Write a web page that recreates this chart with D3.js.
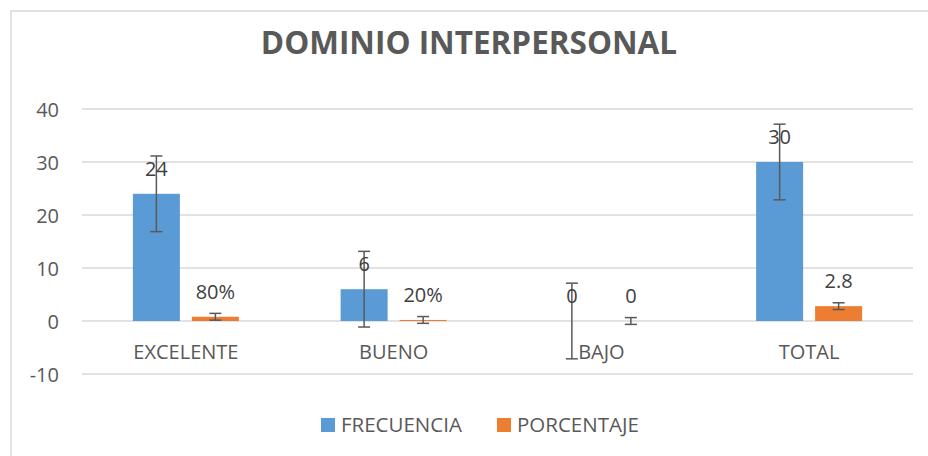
<!DOCTYPE html>
<html><head><meta charset="utf-8">
<script src="https://cdn.jsdelivr.net/npm/d3@7"></script>
<style>body{margin:0;background:#fff;}svg{display:block;}</style>
</head><body>
<svg id="c" width="928" height="456"></svg>
<script>
const categories = ["EXCELENTE","BUENO","BAJO","TOTAL"];
const frecuencia = [24, 6, 0, 30];
const porcentaje = [0.8, 0.2, 0, 2.8];
const frecuenciaLabels = ["24","6","0","30"];
const porcentajeLabels = ["80%","20%","0","2.8"];
const frecuenciaError = 7.14;
const porcentajeError = 0.64;
const yTicks = [-10, 0, 10, 20, 30, 40];
const seriesNames = ["FRECUENCIA","PORCENTAJE"];
const colors = ["#5b9bd5","#ed7d31"];

const svg = d3.select("#c");
const font = "'Open Sans', sans-serif";
// outer border
svg.append("rect").attr("x",11).attr("y",11).attr("width",940).attr("height",460)
  .attr("fill","none").attr("stroke","#d9d9d9").attr("stroke-width",1.5);

const x0 = d3.scaleBand().domain(categories).range([82,913]).paddingInner(0).paddingOuter(0);
const y = d3.scaleLinear().domain([-10,40]).range([374,109]);
const barW = 47, gap = 12;
const x1 = d3.scaleOrdinal().domain(seriesNames).range([-(barW+gap/2), gap/2]);

// grid
svg.append("g").selectAll("line").data(yTicks).join("line")
  .attr("x1",82).attr("x2",913).attr("y1",d=>y(d)).attr("y2",d=>y(d))
  .attr("stroke","#d9d9d9").attr("stroke-width",1.5);

// y axis
const yAxis = d3.axisLeft(y).tickValues(yTicks).tickSize(0).tickPadding(0).tickFormat(d=>String(d));
const ga = svg.append("g").attr("transform","translate(59,0)").call(yAxis);
ga.select(".domain").remove();
ga.selectAll("text").attr("font-family",font).attr("font-size",20).attr("fill","#595959").attr("dy","0.35em");

// x category labels
const xAxis = d3.axisBottom(x0).tickSize(0).tickPadding(0);
const gx = svg.append("g").attr("transform","translate(0,352)").call(xAxis);
gx.select(".domain").remove();
gx.selectAll("text").attr("font-family",font).attr("font-size",20).attr("fill","#595959").attr("dy","0.35em");

const series = [
  {name:seriesNames[0], values:frecuencia, labels:frecuenciaLabels, err:frecuenciaError, color:colors[0]},
  {name:seriesNames[1], values:porcentaje, labels:porcentajeLabels, err:porcentajeError, color:colors[1]}
];

series.forEach(s=>{
  const g = svg.append("g");
  const cx = i => x0(categories[i]) + x0.bandwidth()/2 + x1(s.name);
  g.selectAll("rect").data(s.values).join("rect")
    .attr("x",(d,i)=>cx(i)).attr("width",barW)
    .attr("y",d=>y(Math.max(0,d))).attr("height",d=>Math.abs(y(d)-y(0)))
    .attr("fill",s.color);
  // error bars
  const eb = g.selectAll("g.eb").data(s.values).join("g").attr("class","eb");
  eb.append("line").attr("x1",(d,i)=>cx(i)+barW/2).attr("x2",(d,i)=>cx(i)+barW/2)
    .attr("y1",d=>y(d+s.err)).attr("y2",d=>y(d-s.err));
  eb.append("line").attr("x1",(d,i)=>cx(i)+barW/2-6).attr("x2",(d,i)=>cx(i)+barW/2+6)
    .attr("y1",d=>y(d+s.err)).attr("y2",d=>y(d+s.err));
  eb.append("line").attr("x1",(d,i)=>cx(i)+barW/2-6).attr("x2",(d,i)=>cx(i)+barW/2+6)
    .attr("y1",d=>y(d-s.err)).attr("y2",d=>y(d-s.err));
  eb.selectAll("line").attr("stroke","#595959").attr("stroke-width",1.5);
  // labels
  g.selectAll("text").data(s.values).join("text")
    .attr("x",(d,i)=>cx(i)+barW/2).attr("y",d=>y(d)-18)
    .attr("text-anchor","middle").attr("font-family",font).attr("font-size",20)
    .attr("fill","#404040").text((d,i)=>s.labels[i]);
});

// title
svg.append("text").attr("x",469).attr("y",54).attr("text-anchor","middle")
  .attr("font-family",font).attr("font-weight","bold").attr("font-size",31.5)
  .attr("fill","#595959").text("DOMINIO INTERPERSONAL");

// legend
const lg = svg.append("g");
const legX = [321, 497];
seriesNames.forEach((n,i)=>{
  lg.append("rect").attr("x",legX[i]).attr("y",418).attr("width",14).attr("height",14).attr("fill",colors[i]);
  lg.append("text").attr("x",legX[i]+20).attr("y",425).attr("dy","0.35em")
    .attr("font-family",font).attr("font-size",20.5).attr("fill","#595959").text(n);
});
</script>
</body></html>
